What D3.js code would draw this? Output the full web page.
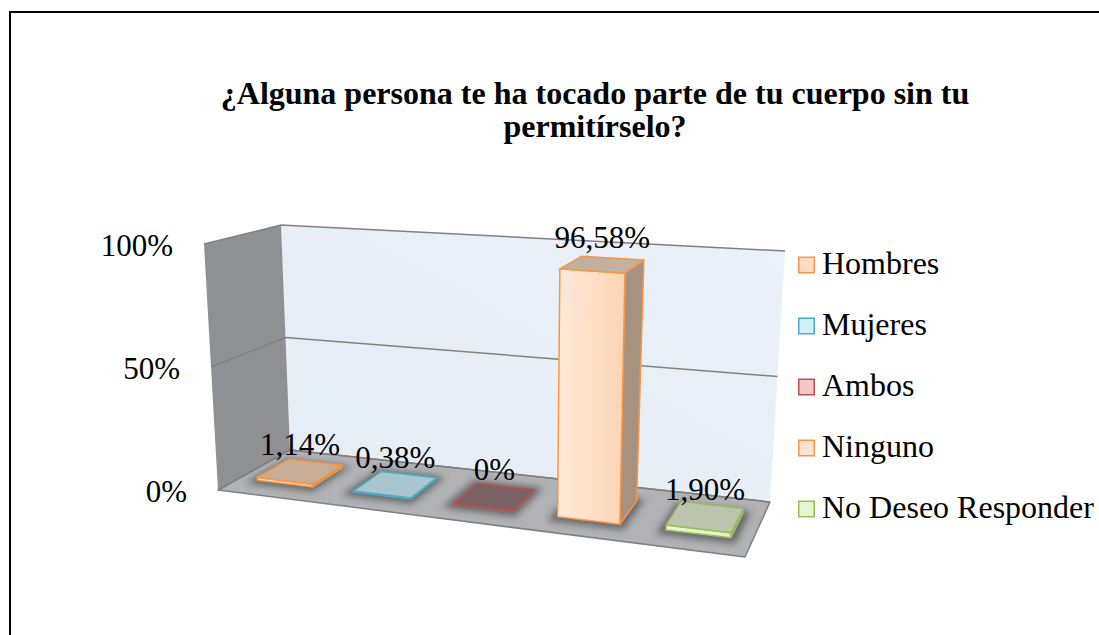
<!DOCTYPE html>
<html>
<head>
<meta charset="utf-8">
<script src="https://cdn.jsdelivr.net/npm/d3@7.9.0/dist/d3.min.js"></script>
<style>
  html, body { margin: 0; padding: 0; background: #fff; }
  svg { display: block; font-family: "Liberation Serif", "Times New Roman", "DejaVu Serif", serif; }
</style>
</head>
<body>
<svg id="chart" width="1099" height="635"></svg>
<script>
// chart data
const titleLines = ["¿Alguna persona te ha tocado parte de tu cuerpo sin tu", "permitírselo?"];
const categories = ["Hombres", "Mujeres", "Ambos", "Ninguno", "No Deseo Responder"];
const values = [1.14, 0.38, 0, 96.58, 1.90];
const valueLabels = ["1,14%", "0,38%", "0%", "96,58%", "1,90%"];
const yTicks = [0, 50, 100];

// one colour set per category (front, top, side, outline)
const palette = [
  { front: ["#fee6d3", "#fcd3b0"], top: "#c7ac98", side: "#a8917e", stroke: "#f79646", legend: "#fddcc3" },
  { front: ["#d7f0f7", "#c3e8f3"], top: "#a9c6ce", side: "#86a3ab", stroke: "#4bacc6", legend: "#d3eef6" },
  { front: ["#f3cdcc", "#eebebd"], top: "#7b6262", side: "#6a5252", stroke: "#c0504d", legend: "#f2c8c7" },
  { front: ["#feeadb", "#fcd4b2"], top: "#c2b0a1", side: "#a6927f", stroke: "#f79646", legend: "#fde3cf" },
  { front: ["#eaf8d6", "#def3c2"], top: "#bbc5ad", side: "#9aa68c", stroke: "#9bbb59", legend: "#e5f6cf" }
];

const svg = d3.select("#chart");
const defs = svg.append("defs");

// corners of the 3d box as drawn (u: left-right, v: 0-100%, w: back-front)
const box = {
  bbl: [290, 450], bbr: [770, 502], btl: [281, 225], btr: [785, 251],
  fbl: [218, 490], fbr: [745, 557], ftl: [204, 244], ftr: [755, 283]
};
const persp = 0.905;

function lerp(a, b, t) {
  return [a[0] + (b[0] - a[0]) * t, a[1] + (b[1] - a[1]) * t];
}

function project(u, v, w) {
  const s = (u * persp) / (1 - (1 - persp) * u);
  const back = lerp(lerp(box.bbl, box.bbr, s), lerp(box.btl, box.btr, s), v);
  const front = lerp(lerp(box.fbl, box.fbr, s), lerp(box.ftl, box.ftr, s), v);
  return lerp(back, front, w);
}

const x = d3.scaleBand().domain(categories).range([0, 1]).paddingInner(0.42).paddingOuter(0.19);
const y = d3.scaleLinear().domain([0, 100]).range([0, 1]);
const z = d3.scaleLinear().domain([0, 1]).range([0.25, 0.7]);

const poly = (pts) => pts.map((p) => project(...p).join(",")).join(" ");

// border
svg.append("rect")
  .attr("x", 10).attr("y", 12)
  .attr("width", 1100).attr("height", 640)
  .attr("fill", "none").attr("stroke", "#000").attr("stroke-width", 2);

// title
svg.append("text")
  .attr("x", 595).attr("y", 104)
  .attr("text-anchor", "middle")
  .attr("font-size", 32).attr("font-weight", "bold")
  .selectAll("tspan")
  .data(titleLines)
  .join("tspan")
  .attr("x", 595)
  .attr("dy", (d, i) => (i === 0 ? 0 : 33))
  .text((d) => d);

// walls and floor
const wallGrad = defs.append("linearGradient").attr("id", "wall")
  .attr("x1", 0).attr("y1", 1).attr("x2", 1).attr("y2", 0);
wallGrad.append("stop").attr("offset", 0).attr("stop-color", "#e4ecf5");
wallGrad.append("stop").attr("offset", 1).attr("stop-color", "#ebf1f8");

svg.append("polygon")
  .attr("points", poly([[0, 0, 0], [1, 0, 0], [1, 1, 0], [0, 1, 0]]))
  .attr("fill", "url(#wall)");

svg.append("polygon")
  .attr("points", poly([[0, 0, 0], [0, 1, 0], [0, 1, 1], [0, 0, 1]]))
  .attr("fill", "#8e9093");

svg.append("polygon")
  .attr("points", poly([[0, 0, 0], [1, 0, 0], [1, 0, 1], [0, 0, 1]]))
  .attr("fill", "#b0b2b5")
  .attr("stroke", "#808080").attr("stroke-width", 1.5)
  .attr("stroke-linejoin", "round");

// gridlines on side and back walls
svg.append("g")
  .selectAll("polyline")
  .data(yTicks)
  .join("polyline")
  .attr("points", (d) => poly([[0, y(d), 1], [0, y(d), 0], [1, y(d), 0]]))
  .attr("fill", "none")
  .attr("stroke", "#808080")
  .attr("stroke-width", 1.5);

// tick labels
svg.append("g")
  .attr("font-size", 31)
  .attr("text-anchor", "end")
  .selectAll("text")
  .data(yTicks)
  .join("text")
  .attr("x", (d) => project(0, y(d), 1)[0] - 31)
  .attr("y", (d) => project(0, y(d), 1)[1] + 12)
  .text((d) => d3.format(".0%")(d / 100));

// bar shadows
defs.append("filter").attr("id", "blur")
  .attr("x", -0.5).attr("y", -0.5).attr("width", 2).attr("height", 2)
  .append("feGaussianBlur").attr("stdDeviation", 3.5);

const bars = categories.map((c, i) => ({
  name: c, value: values[i], label: valueLabels[i], color: palette[i],
  u0: x(c), u1: x(c) + x.bandwidth(), h: y(values[i]), wb: z(0), wf: z(1)
}));

svg.append("g")
  .selectAll("polygon")
  .data(bars)
  .join("polygon")
  .attr("points", (d) => poly([[d.u0 - 0.012, 0, d.wb - 0.05], [d.u1 + 0.012, 0, d.wb - 0.05], [d.u1 + 0.012, 0, d.wf + 0.09], [d.u0 - 0.012, 0, d.wf + 0.09]]))
  .attr("fill", "#3c3c3c")
  .attr("opacity", 0.65)
  .attr("filter", "url(#blur)");

// bar front gradients
bars.forEach((d, i) => {
  const g = defs.append("linearGradient").attr("id", `front${i}`)
    .attr("x1", 0).attr("y1", 0).attr("x2", 1).attr("y2", 0);
  g.append("stop").attr("offset", 0).attr("stop-color", d.color.front[0]);
  g.append("stop").attr("offset", 1).attr("stop-color", d.color.front[1]);
});

const barG = svg.append("g")
  .selectAll("g")
  .data(bars)
  .join("g")
  .attr("stroke", (d) => d.color.stroke)
  .attr("stroke-width", 1.5)
  .attr("stroke-linejoin", "round");

barG.append("polygon")
  .attr("points", (d) => poly([[d.u1, 0, d.wf], [d.u1, 0, d.wb], [d.u1, d.h, d.wb], [d.u1, d.h, d.wf]]))
  .attr("fill", (d) => d.color.side);

barG.append("polygon")
  .attr("points", (d) => poly([[d.u0, 0, d.wf], [d.u1, 0, d.wf], [d.u1, d.h, d.wf], [d.u0, d.h, d.wf]]))
  .attr("fill", (d, i) => `url(#front${i})`);

barG.append("polygon")
  .attr("points", (d) => poly([[d.u0, d.h, d.wb], [d.u1, d.h, d.wb], [d.u1, d.h, d.wf], [d.u0, d.h, d.wf]]))
  .attr("fill", (d) => d.color.top);

// value labels
svg.append("g")
  .attr("font-size", 31)
  .attr("text-anchor", "middle")
  .selectAll("text")
  .data(bars)
  .join("text")
  .attr("x", (d) => project(d.u0 + x.bandwidth() / 2, d.h, (d.wb + d.wf) / 2)[0])
  .attr("y", (d) => project(d.u0 + x.bandwidth() / 2, d.h, (d.wb + d.wf) / 2)[1] - 17)
  .text((d) => d.label);

// legend
const legend = svg.append("g")
  .attr("transform", "translate(798, 265)")
  .selectAll("g")
  .data(bars)
  .join("g")
  .attr("transform", (d, i) => `translate(0, ${i * 61})`);

legend.append("rect")
  .attr("x", 0.75).attr("y", -7.75)
  .attr("width", 15.5).attr("height", 15.5)
  .attr("fill", (d) => d.color.legend)
  .attr("stroke", (d) => d.color.stroke)
  .attr("stroke-width", 1.5);

legend.append("text")
  .attr("x", 24).attr("y", 9)
  .attr("font-size", 32)
  .text((d) => d.name);
</script>
</body>
</html>
